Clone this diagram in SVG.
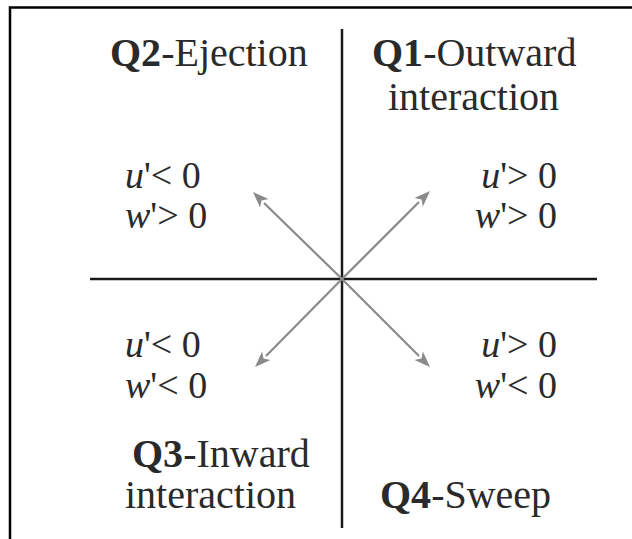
<svg xmlns="http://www.w3.org/2000/svg" width="632" height="539" viewBox="0 0 632 539">
<rect width="632" height="539" fill="#fff"/>
<path d="M10,539 V7.5 H632" fill="none" stroke="#000" stroke-width="2.5"/>
<g id="connectors">
<g stroke="#1a1a1a" stroke-width="2.5" fill="none">
<line x1="90" y1="279" x2="597" y2="279"/>
<line x1="342" y1="29" x2="342" y2="528"/>
</g>
<g stroke="#8a8a8a" stroke-width="2.2" fill="none">
<line x1="342" y1="279" x2="419" y2="202"/>
<line x1="342" y1="279" x2="264" y2="203"/>
<line x1="342" y1="279" x2="266" y2="356"/>
<line x1="342" y1="279" x2="419" y2="356"/>
</g>
<g fill="#8a8a8a">
<polygon points="430,191 422.9,206.5 421.5,199.5 414.5,198.1"/>
<polygon points="253,192 268.5,199.1 261.5,200.5 260.1,207.5"/>
<polygon points="255,367 270.5,359.9 263.5,358.5 262.1,351.5"/>
<polygon points="430,367 422.9,351.5 421.5,358.5 414.5,359.9"/>
</g>
</g>
<g id="q2" fill="#2a2a2a">
<text x="110" y="66" font-family="Liberation Serif" font-size="40"><tspan font-weight="bold">Q2</tspan>-Ejection</text>
<text x="125" y="188" font-family="Liberation Serif" font-size="38"><tspan font-style="italic">u</tspan>'&lt; 0</text>
<text x="125" y="228" font-family="Liberation Serif" font-size="38"><tspan font-style="italic">w</tspan>'&gt; 0</text>
</g>
<g id="q1" fill="#2a2a2a">
<text x="372" y="66" font-family="Liberation Serif" font-size="40"><tspan font-weight="bold">Q1</tspan>-Outward</text>
<text x="388" y="110" font-family="Liberation Serif" font-size="40">interaction</text>
<text x="557" y="188" font-family="Liberation Serif" font-size="38" text-anchor="end"><tspan font-style="italic">u</tspan>'&gt; 0</text>
<text x="557" y="228" font-family="Liberation Serif" font-size="38" text-anchor="end"><tspan font-style="italic">w</tspan>'&gt; 0</text>
</g>
<g id="q3" fill="#2a2a2a">
<text x="125" y="357" font-family="Liberation Serif" font-size="38"><tspan font-style="italic">u</tspan>'&lt; 0</text>
<text x="125" y="398" font-family="Liberation Serif" font-size="38"><tspan font-style="italic">w</tspan>'&lt; 0</text>
<text x="132" y="467" font-family="Liberation Serif" font-size="40"><tspan font-weight="bold">Q3</tspan>-Inward</text>
<text x="125" y="508" font-family="Liberation Serif" font-size="40">interaction</text>
</g>
<g id="q4" fill="#2a2a2a">
<text x="557" y="357" font-family="Liberation Serif" font-size="38" text-anchor="end"><tspan font-style="italic">u</tspan>'&gt; 0</text>
<text x="557" y="398" font-family="Liberation Serif" font-size="38" text-anchor="end"><tspan font-style="italic">w</tspan>'&lt; 0</text>
<text x="380" y="508" font-family="Liberation Serif" font-size="40"><tspan font-weight="bold">Q4</tspan>-Sweep</text>
</g>
</svg>
